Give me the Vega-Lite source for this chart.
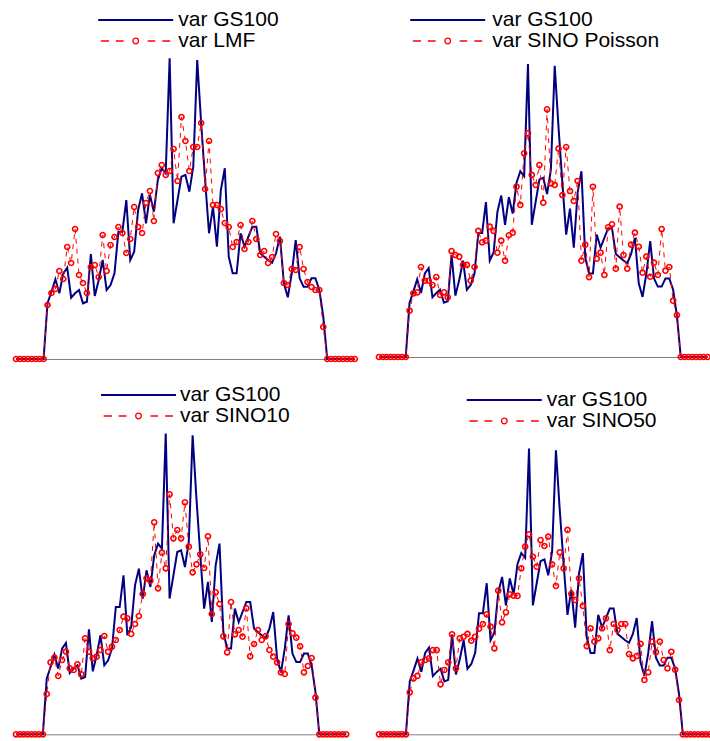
{
  "$schema": "https://vega.github.io/schema/vega-lite/v6.json",
  "autosize": {"type": "pad"},
  "padding": {"left": 10, "top": 8, "right": 0, "bottom": 0},
  "bounds": "flush",
  "columns": 2,
  "spacing": {"row": 27, "column": 24},
  "config": {
    "view": {"stroke": null},
    "font": "Liberation Sans",
    "axisX": {"domain": true, "domainColor": "#808080", "domainWidth": 1, "ticks": false, "labels": false, "grid": false, "title": null},
    "legend": {"orient": "none", "title": null, "symbolSize": 5625, "labelFont": "Liberation Sans", "labelFontSize": 21, "labelColor": "#000000", "labelOffset": 4, "labelLimit": 400, "rowPadding": 0, "padding": 0, "clipHeight": 20, "symbolOpacity": 1}
  },
  "datasets": {
    "gs": [{"i":0,"v":0},{"i":1,"v":0},{"i":2,"v":0},{"i":3,"v":0},{"i":4,"v":0},{"i":5,"v":0},{"i":6,"v":0},{"i":7,"v":0},
      {"i":8,"v":55.7},{"i":9,"v":67.3},{"i":10,"v":79.7},{"i":11,"v":65.7},{"i":12,"v":85.7},{"i":13,"v":91.3},{"i":14,"v":61.3},{"i":15,"v":65.7},{"i":16,"v":69},{"i":17,"v":55.7},
      {"i":18,"v":57.3},{"i":19,"v":105},{"i":20,"v":63},{"i":21,"v":79},{"i":22,"v":99},{"i":23,"v":69},{"i":24,"v":74},{"i":25,"v":85.7},{"i":26,"v":127.3},{"i":27,"v":127.3},
      {"i":28,"v":159},{"i":29,"v":99},{"i":30,"v":107.3},{"i":31,"v":149},{"i":32,"v":165.7},{"i":33,"v":135.7},{"i":34,"v":164},{"i":35,"v":147.3},{"i":36,"v":179},{"i":37,"v":190.7},
      {"i":38,"v":185.7},{"i":39,"v":300.7},{"i":40,"v":135.7},{"i":41,"v":159},{"i":42,"v":182.3},{"i":43,"v":184},{"i":44,"v":167.3},{"i":45,"v":192.3},{"i":46,"v":299},{"i":47,"v":235.7},
      {"i":48,"v":179},{"i":49,"v":125.7},{"i":50,"v":152.3},{"i":51,"v":112.3},{"i":52,"v":169},{"i":53,"v":190.7},{"i":54,"v":102.3},{"i":55,"v":85.7},{"i":56,"v":85.7},{"i":57,"v":125.7},
      {"i":58,"v":112.3},{"i":59,"v":122.3},{"i":60,"v":132.3},{"i":61,"v":132.3},{"i":62,"v":105.7},{"i":63,"v":102.3},{"i":64,"v":99},{"i":65,"v":96.3},{"i":66,"v":105.7},{"i":67,"v":122.3},
      {"i":68,"v":75.7},{"i":69,"v":61.7},{"i":70,"v":85.7},{"i":71,"v":119},{"i":72,"v":80.7},{"i":73,"v":72.3},{"i":74,"v":72.3},{"i":75,"v":80.7},{"i":76,"v":80.7},{"i":77,"v":69},{"i":78,"v":42.3},
      {"i":79,"v":0},{"i":80,"v":0},{"i":81,"v":0},{"i":82,"v":0},{"i":83,"v":0},{"i":84,"v":0},{"i":85,"v":0},{"i":86,"v":0}],
    "lmf": [{"i":0,"v":0},{"i":1,"v":0},{"i":2,"v":0},{"i":3,"v":0},{"i":4,"v":0},{"i":5,"v":0},{"i":6,"v":0},{"i":7,"v":0},
      {"i":8,"v":54},{"i":9,"v":66},{"i":10,"v":70},{"i":11,"v":88},{"i":12,"v":80},{"i":13,"v":112},{"i":14,"v":96},{"i":15,"v":130},{"i":16,"v":84},{"i":17,"v":76},
      {"i":18,"v":66},{"i":19,"v":92},{"i":20,"v":94},{"i":21,"v":82},{"i":22,"v":124},{"i":23,"v":88},{"i":24,"v":114},{"i":25,"v":122},{"i":26,"v":132},{"i":27,"v":126},
      {"i":28,"v":106},{"i":29,"v":120},{"i":30,"v":152},{"i":31,"v":132},{"i":32,"v":126},{"i":33,"v":156},{"i":34,"v":168},{"i":35,"v":138},{"i":36,"v":186},{"i":37,"v":194},
      {"i":38,"v":184},{"i":39,"v":188},{"i":40,"v":210},{"i":41,"v":178},{"i":42,"v":242},{"i":43,"v":218},{"i":44,"v":188},{"i":45,"v":212},{"i":46,"v":212},{"i":47,"v":236},
      {"i":48,"v":170},{"i":49,"v":218},{"i":50,"v":154},{"i":51,"v":154},{"i":52,"v":150},{"i":53,"v":136},{"i":54,"v":132},{"i":55,"v":112},{"i":56,"v":117},{"i":57,"v":134},
      {"i":58,"v":110},{"i":59,"v":117},{"i":60,"v":138},{"i":61,"v":120},{"i":62,"v":104},{"i":63,"v":108},{"i":64,"v":96},{"i":65,"v":102},{"i":66,"v":125},{"i":67,"v":118},
      {"i":68,"v":76},{"i":69,"v":74},{"i":70,"v":90},{"i":71,"v":89},{"i":72,"v":112},{"i":73,"v":90},{"i":74,"v":77},{"i":75,"v":72},{"i":76,"v":69},{"i":77,"v":69},{"i":78,"v":32},
      {"i":79,"v":0},{"i":80,"v":0},{"i":81,"v":0},{"i":82,"v":0},{"i":83,"v":0},{"i":84,"v":0},{"i":85,"v":0},{"i":86,"v":0}],
    "poisson": [{"i":0,"v":0},{"i":1,"v":0},{"i":2,"v":0},{"i":3,"v":0},{"i":4,"v":0},{"i":5,"v":0},{"i":6,"v":0},{"i":7,"v":0},
      {"i":8,"v":47.5},{"i":9,"v":65.4},{"i":10,"v":66.4},{"i":11,"v":92.4},{"i":12,"v":78.3},{"i":13,"v":78.3},{"i":14,"v":73.9},{"i":15,"v":82.1},{"i":16,"v":63.7},{"i":17,"v":66.4},
      {"i":18,"v":61.3},{"i":19,"v":108.8},{"i":20,"v":104.7},{"i":21,"v":103},{"i":22,"v":94.5},{"i":23,"v":94.5},{"i":24,"v":78.3},{"i":25,"v":92.4},{"i":26,"v":129.4},{"i":27,"v":117.8},
      {"i":28,"v":119.4},{"i":29,"v":133.8},{"i":30,"v":129.4},{"i":31,"v":107.1},{"i":32,"v":119.4},{"i":33,"v":98.9},{"i":34,"v":125},{"i":35,"v":127.6},{"i":36,"v":174.8},{"i":37,"v":156.1},
      {"i":38,"v":209.1},{"i":39,"v":229.7},{"i":40,"v":186.9},{"i":41,"v":176.6},{"i":42,"v":197.1},{"i":43,"v":158.4},{"i":44,"v":254.3},{"i":45,"v":178.3},{"i":46,"v":176.6},{"i":47,"v":213.9},
      {"i":48,"v":166.3},{"i":49,"v":215.6},{"i":50,"v":170.4},{"i":51,"v":160.2},{"i":52,"v":180.7},{"i":53,"v":98.9},{"i":54,"v":115.3},{"i":55,"v":82.1},{"i":56,"v":174.8},{"i":57,"v":100.9},
      {"i":58,"v":107.1},{"i":59,"v":84.2},{"i":60,"v":133.2},{"i":61,"v":136.2},{"i":62,"v":90.7},{"i":63,"v":154.3},{"i":64,"v":104.7},{"i":65,"v":90.7},{"i":66,"v":115.3},{"i":67,"v":127.6},
      {"i":68,"v":113.2},{"i":69,"v":86.6},{"i":70,"v":103},{"i":71,"v":82.4},{"i":72,"v":96.8},{"i":73,"v":84.2},{"i":74,"v":131.4},{"i":75,"v":88.6},{"i":76,"v":92.4},{"i":77,"v":57.8},{"i":78,"v":43.1},
      {"i":79,"v":0},{"i":80,"v":0},{"i":81,"v":0},{"i":82,"v":0},{"i":83,"v":0},{"i":84,"v":0},{"i":85,"v":0},{"i":86,"v":0}],
    "sino10": [{"i":0,"v":0},{"i":1,"v":0},{"i":2,"v":0},{"i":3,"v":0},{"i":4,"v":0},{"i":5,"v":0},{"i":6,"v":0},{"i":7,"v":0},
      {"i":8,"v":40.3},{"i":9,"v":72},{"i":10,"v":76.6},{"i":11,"v":58.3},{"i":12,"v":74.3},{"i":13,"v":82.6},{"i":14,"v":66},{"i":15,"v":64.3},{"i":16,"v":70},{"i":17,"v":60},
      {"i":18,"v":96},{"i":19,"v":82.6},{"i":20,"v":76},{"i":21,"v":77.6},{"i":22,"v":84.3},{"i":23,"v":98.3},{"i":24,"v":82.6},{"i":25,"v":87.6},{"i":26,"v":94.3},{"i":27,"v":104.3},
      {"i":28,"v":117.6},{"i":29,"v":116},{"i":30,"v":100.3},{"i":31,"v":110.3},{"i":32,"v":118.3},{"i":33,"v":140.3},{"i":34,"v":156},{"i":35,"v":153.6},{"i":36,"v":212},{"i":37,"v":146},
      {"i":38,"v":181.6},{"i":39,"v":166},{"i":40,"v":240},{"i":41,"v":196},{"i":42,"v":204.3},{"i":43,"v":196},{"i":44,"v":232},{"i":45,"v":187.6},{"i":46,"v":162},{"i":47,"v":170},
      {"i":48,"v":180},{"i":49,"v":166.3},{"i":50,"v":198},{"i":51,"v":120.3},{"i":52,"v":142},{"i":53,"v":130.3},{"i":54,"v":98},{"i":55,"v":82},{"i":56,"v":132.3},{"i":57,"v":100},
      {"i":58,"v":104.3},{"i":59,"v":97.6},{"i":60,"v":126},{"i":61,"v":78},{"i":62,"v":90.3},{"i":63,"v":104.3},{"i":64,"v":94.3},{"i":65,"v":98},{"i":66,"v":84.3},{"i":67,"v":77.6},
      {"i":68,"v":72},{"i":69,"v":62},{"i":70,"v":60.3},{"i":71,"v":110.3},{"i":72,"v":101},{"i":73,"v":96.6},{"i":74,"v":88},{"i":75,"v":62},{"i":76,"v":68.3},{"i":77,"v":76.3},{"i":78,"v":36.6},
      {"i":79,"v":0},{"i":80,"v":0},{"i":81,"v":0},{"i":82,"v":0},{"i":83,"v":0},{"i":84,"v":0},{"i":85,"v":0},{"i":86,"v":0}],
    "sino50": [{"i":0,"v":0},{"i":1,"v":0},{"i":2,"v":0},{"i":3,"v":0},{"i":4,"v":0},{"i":5,"v":0},{"i":6,"v":0},{"i":7,"v":0},
      {"i":8,"v":44.2},{"i":9,"v":58.9},{"i":10,"v":61.4},{"i":11,"v":75.8},{"i":12,"v":78.2},{"i":13,"v":80},{"i":14,"v":88.7},{"i":15,"v":88.7},{"i":16,"v":52.6},{"i":17,"v":67.7},
      {"i":18,"v":75.8},{"i":19,"v":105.3},{"i":20,"v":69.5},{"i":21,"v":101},{"i":22,"v":102.7},{"i":23,"v":105.6},{"i":24,"v":98.5},{"i":25,"v":102.7},{"i":26,"v":111.2},{"i":27,"v":116.1},
      {"i":28,"v":126.3},{"i":29,"v":113.3},{"i":30,"v":90.5},{"i":31,"v":151.2},{"i":32,"v":117.9},{"i":33,"v":128.4},{"i":34,"v":147.4},{"i":35,"v":145.9},{"i":36,"v":145.6},{"i":37,"v":174.7},
      {"i":38,"v":197.5},{"i":39,"v":210.5},{"i":40,"v":186.9},{"i":41,"v":176.4},{"i":42,"v":204.5},{"i":43,"v":198.2},{"i":44,"v":208},{"i":45,"v":178.9},{"i":46,"v":156.1},{"i":47,"v":191.6},
      {"i":48,"v":174.7},{"i":49,"v":215.1},{"i":50,"v":147.7},{"i":51,"v":141.4},{"i":52,"v":164.2},{"i":53,"v":135.1},{"i":54,"v":92.9},{"i":55,"v":111.6},{"i":56,"v":97.5},{"i":57,"v":101},
      {"i":58,"v":111.6},{"i":59,"v":122.1},{"i":60,"v":88.7},{"i":61,"v":116.1},{"i":62,"v":109.8},{"i":63,"v":116.1},{"i":64,"v":116.1},{"i":65,"v":84.5},{"i":66,"v":80},{"i":67,"v":82.4},
      {"i":68,"v":95.1},{"i":69,"v":57.2},{"i":70,"v":65.3},{"i":71,"v":97.5},{"i":72,"v":86.6},{"i":73,"v":97.5},{"i":74,"v":78.2},{"i":75,"v":69.5},{"i":76,"v":86.9},{"i":77,"v":68},{"i":78,"v":36.1},
      {"i":79,"v":0},{"i":80,"v":0},{"i":81,"v":0},{"i":82,"v":0},{"i":83,"v":0},{"i":84,"v":0},{"i":85,"v":0},{"i":86,"v":0}]
  },
  "resolve": {"scale": {"shape": "independent", "color": "independent", "strokeWidth": "independent", "x": "independent", "y": "independent"}, "legend": {"shape": "independent", "color": "independent", "strokeWidth": "independent"}},
  "concat": [
    {
      "width": 338.8, "height": 351,
      "layer": [
        {"data": {"name": "gs"}, "mark": {"type": "line", "color": "#000080", "strokeWidth": 2}, "encoding": {"x": {"field": "i", "type": "quantitative", "scale": {"domain": [0, 86], "nice": false, "zero": false}}, "y": {"field": "v", "type": "quantitative", "scale": {"domain": [0, 351], "nice": false}, "axis": null}}},
        {"data": {"name": "lmf"}, "mark": {"type": "line", "color": "#ff0000", "strokeWidth": 1, "strokeDash": [5, 5]}, "encoding": {"x": {"field": "i", "type": "quantitative"}, "y": {"field": "v", "type": "quantitative"}}},
        {"data": {"name": "lmf"}, "mark": {"type": "point", "shape": "circle", "filled": false, "color": "#ff0000", "strokeWidth": 1.6, "size": 26, "opacity": 1}, "encoding": {"x": {"field": "i", "type": "quantitative"}, "y": {"field": "v", "type": "quantitative"}}},
        {"data": {"values": [{"s": "var GS100"}]}, "transform": [{"filter": "false"}], "mark": {"type": "point", "filled": false, "opacity": 1},
         "encoding": {
           "shape": {"field": "s", "type": "nominal", "scale": {"domain": ["var GS100", "var LMF"], "range": ["M-1,0H1", "M-0.93,0H-0.71M-0.53,0H-0.32M0.075,0A0.075,0.075 0 1,1 -0.075,0A0.075,0.075 0 1,1 0.075,0M0.32,0H0.52M0.71,0H0.92"]}, "legend": {"legendX": 81.2, "legendY": 2}},
           "color": {"field": "s", "type": "nominal", "scale": {"domain": ["var GS100", "var LMF"], "range": ["#000080", "#ff0000"]}, "legend": {"legendX": 81.2, "legendY": 2}},
           "strokeWidth": {"field": "s", "type": "nominal", "scale": {"domain": ["var GS100", "var LMF"], "range": [2, 1.3]}, "legend": {"legendX": 81.2, "legendY": 2}}
         }}
      ]
    },
    {
      "width": 328.5, "height": 349,
      "layer": [
        {"data": {"name": "gs"}, "mark": {"type": "line", "color": "#000080", "strokeWidth": 2}, "encoding": {"x": {"field": "i", "type": "quantitative", "scale": {"domain": [0, 86], "nice": false, "zero": false}}, "y": {"field": "v", "type": "quantitative", "scale": {"domain": [0, 358.3], "nice": false}, "axis": null}}},
        {"data": {"name": "poisson"}, "mark": {"type": "line", "color": "#ff0000", "strokeWidth": 1, "strokeDash": [5, 5]}, "encoding": {"x": {"field": "i", "type": "quantitative"}, "y": {"field": "v", "type": "quantitative"}}},
        {"data": {"name": "poisson"}, "mark": {"type": "point", "shape": "circle", "filled": false, "color": "#ff0000", "strokeWidth": 1.6, "size": 26, "opacity": 1}, "encoding": {"x": {"field": "i", "type": "quantitative"}, "y": {"field": "v", "type": "quantitative"}}},
        {"data": {"values": [{"s": "var GS100"}]}, "transform": [{"filter": "false"}], "mark": {"type": "point", "filled": false, "opacity": 1},
         "encoding": {
           "shape": {"field": "s", "type": "nominal", "scale": {"domain": ["var GS100", "var SINO Poisson"], "range": ["M-1,0H1", "M-0.93,0H-0.71M-0.53,0H-0.32M0.075,0A0.075,0.075 0 1,1 -0.075,0A0.075,0.075 0 1,1 0.075,0M0.32,0H0.52M0.71,0H0.92"]}, "legend": {"legendX": 30.2, "legendY": 2, "labelOffset": 6}},
           "color": {"field": "s", "type": "nominal", "scale": {"domain": ["var GS100", "var SINO Poisson"], "range": ["#000080", "#ff0000"]}, "legend": {"legendX": 30.2, "legendY": 2, "labelOffset": 6}},
           "strokeWidth": {"field": "s", "type": "nominal", "scale": {"domain": ["var GS100", "var SINO Poisson"], "range": [2, 1.3]}, "legend": {"legendX": 30.2, "legendY": 2, "labelOffset": 6}}
         }}
      ]
    },
    {
      "width": 330.2, "height": 348.3,
      "layer": [
        {"data": {"name": "gs"}, "mark": {"type": "line", "color": "#000080", "strokeWidth": 2}, "encoding": {"x": {"field": "i", "type": "quantitative", "scale": {"domain": [0, 86], "nice": false, "zero": false}}, "y": {"field": "v", "type": "quantitative", "scale": {"domain": [0, 348.3], "nice": false}, "axis": null}}},
        {"data": {"name": "sino10"}, "mark": {"type": "line", "color": "#ff0000", "strokeWidth": 1, "strokeDash": [5, 5]}, "encoding": {"x": {"field": "i", "type": "quantitative"}, "y": {"field": "v", "type": "quantitative"}}},
        {"data": {"name": "sino10"}, "mark": {"type": "point", "shape": "circle", "filled": false, "color": "#ff0000", "strokeWidth": 1.6, "size": 26, "opacity": 1}, "encoding": {"x": {"field": "i", "type": "quantitative"}, "y": {"field": "v", "type": "quantitative"}}},
        {"data": {"values": [{"s": "var GS100"}]}, "transform": [{"filter": "false"}], "mark": {"type": "point", "filled": false, "opacity": 1},
         "encoding": {
           "shape": {"field": "s", "type": "nominal", "scale": {"domain": ["var GS100", "var SINO10"], "range": ["M-1,0H1", "M-0.93,0H-0.71M-0.53,0H-0.32M0.075,0A0.075,0.075 0 1,1 -0.075,0A0.075,0.075 0 1,1 0.075,0M0.32,0H0.52M0.71,0H0.92"]}, "legend": {"legendX": 84, "legendY": -1, "labelOffset": 3}},
           "color": {"field": "s", "type": "nominal", "scale": {"domain": ["var GS100", "var SINO10"], "range": ["#000080", "#ff0000"]}, "legend": {"legendX": 84, "legendY": -1, "labelOffset": 3}},
           "strokeWidth": {"field": "s", "type": "nominal", "scale": {"domain": ["var GS100", "var SINO10"], "range": [2, 1.3]}, "legend": {"legendX": 84, "legendY": -1, "labelOffset": 3}}
         }}
      ]
    },
    {
      "width": 330.8, "height": 348.3,
      "layer": [
        {"data": {"name": "gs"}, "mark": {"type": "line", "color": "#000080", "strokeWidth": 2}, "encoding": {"x": {"field": "i", "type": "quantitative", "scale": {"domain": [0, 86], "nice": false, "zero": false}}, "y": {"field": "v", "type": "quantitative", "scale": {"domain": [0, 366.6], "nice": false}, "axis": null}}},
        {"data": {"name": "sino50"}, "mark": {"type": "line", "color": "#ff0000", "strokeWidth": 1, "strokeDash": [5, 5]}, "encoding": {"x": {"field": "i", "type": "quantitative"}, "y": {"field": "v", "type": "quantitative"}}},
        {"data": {"name": "sino50"}, "mark": {"type": "point", "shape": "circle", "filled": false, "color": "#ff0000", "strokeWidth": 1.6, "size": 26, "opacity": 1}, "encoding": {"x": {"field": "i", "type": "quantitative"}, "y": {"field": "v", "type": "quantitative"}}},
        {"data": {"values": [{"s": "var GS100"}]}, "transform": [{"filter": "false"}], "mark": {"type": "point", "filled": false, "opacity": 1},
         "encoding": {
           "shape": {"field": "s", "type": "nominal", "scale": {"domain": ["var GS100", "var SINO50"], "range": ["M-1,0H1", "M-0.93,0H-0.71M-0.53,0H-0.32M0.075,0A0.075,0.075 0 1,1 -0.075,0A0.075,0.075 0 1,1 0.075,0M0.32,0H0.52M0.71,0H0.92"]}, "legend": {"legendX": 86.8, "legendY": 4}},
           "color": {"field": "s", "type": "nominal", "scale": {"domain": ["var GS100", "var SINO50"], "range": ["#000080", "#ff0000"]}, "legend": {"legendX": 86.8, "legendY": 4}},
           "strokeWidth": {"field": "s", "type": "nominal", "scale": {"domain": ["var GS100", "var SINO50"], "range": [2, 1.3]}, "legend": {"legendX": 86.8, "legendY": 4}}
         }}
      ]
    }
  ]
}
